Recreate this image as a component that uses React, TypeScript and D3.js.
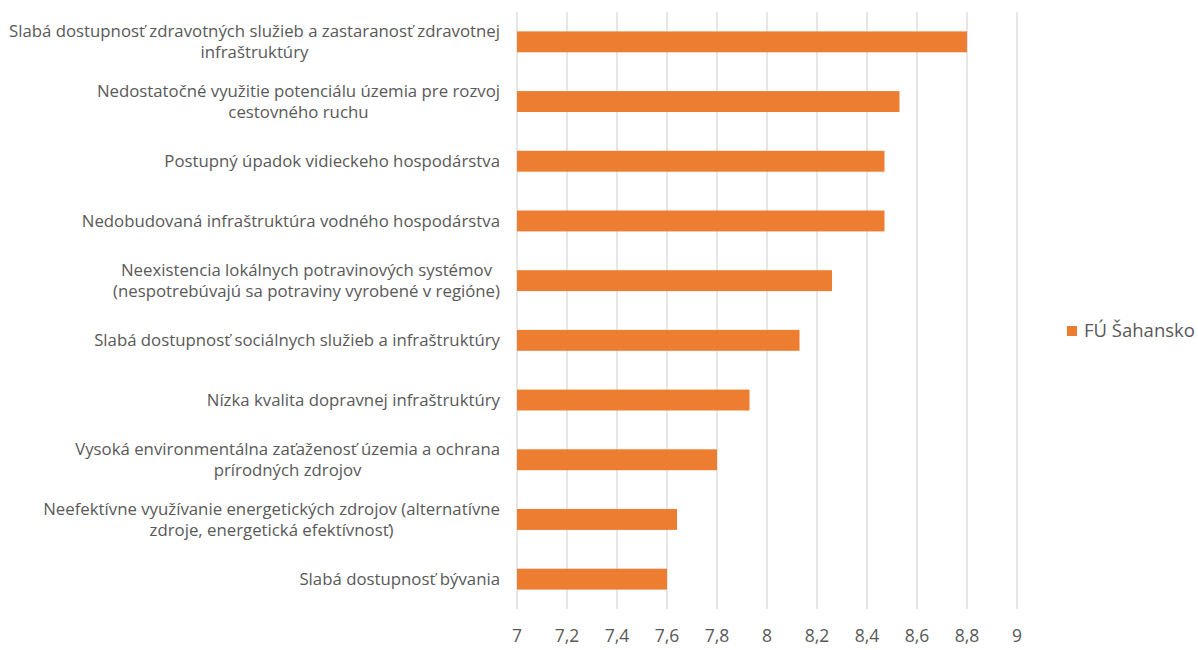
import React, { useEffect, useRef } from "react";
import * as d3 from "d3";

const categories: string[] = [
  "Slabá dostupnosť zdravotných služieb a zastaranosť zdravotnej\ninfraštruktúry",
  "Nedostatočné využitie potenciálu územia pre rozvoj\ncestovného ruchu",
  "Postupný úpadok vidieckeho hospodárstva",
  "Nedobudovaná infraštruktúra vodného hospodárstva",
  "Neexistencia lokálnych potravinových systémov\n(nespotrebúvajú sa potraviny vyrobené v regióne)",
  "Slabá dostupnosť sociálnych služieb a infraštruktúry",
  "Nízka kvalita dopravnej infraštruktúry",
  "Vysoká environmentálna zaťaženosť územia a ochrana\nprírodných zdrojov",
  "Neefektívne využívanie energetických zdrojov (alternatívne\nzdroje, energetická efektívnosť)",
  "Slabá dostupnosť bývania",
];

const values: number[] = [8.8, 8.53, 8.47, 8.47, 8.26, 8.13, 7.93, 7.8, 7.64, 7.6];

const xTicks: number[] = [7, 7.2, 7.4, 7.6, 7.8, 8, 8.2, 8.4, 8.6, 8.8, 9];

const seriesName = "FÚ Šahansko";

const W = 1198;
const H = 650;
const FONT = "'Open Sans', Lato, sans-serif";
const TEXT = "#595959";
const BAR = "#ED7D31";

export default function App() {
  const ref = useRef<SVGSVGElement | null>(null);

  useEffect(() => {
    const svg = d3.select(ref.current);
    svg.selectAll("*").remove();

    const left = 517;
    const right = 1017;
    const top = 12;
    const bottom = 609;

    const x = d3.scaleLinear().domain([7, 9]).range([left, right]);
    const y = d3
      .scaleBand<string>()
      .domain(categories)
      .range([top, bottom])
      .paddingInner(0.65)
      .paddingOuter(0.325);

    // gridlines
    svg
      .append("g")
      .selectAll("line")
      .data(xTicks)
      .join("line")
      .attr("x1", (d) => x(d))
      .attr("x2", (d) => x(d))
      .attr("y1", top)
      .attr("y2", bottom)
      .attr("stroke", "#d9d9d9")
      .attr("stroke-width", 1.3);

    // tick labels
    svg
      .append("g")
      .selectAll("text")
      .data(xTicks)
      .join("text")
      .attr("x", (d) => x(d))
      .attr("y", 636)
      .attr("dy", "0.35em")
      .attr("text-anchor", "middle")
      .attr("font-family", FONT)
      .attr("font-size", 17.5)
      .attr("fill", TEXT)
      .text((d) => d3.format("~g")(d).replace(".", ","));

    // bars
    svg
      .append("g")
      .selectAll("rect")
      .data(categories)
      .join("rect")
      .attr("x", x(7))
      .attr("y", (d) => y(d)!)
      .attr("width", (_, i) => x(values[i]) - x(7))
      .attr("height", y.bandwidth())
      .attr("fill", BAR);

    // category labels
    const lineH = 21.5;
    const labelRight = 500;
    const lg = svg.append("g");
    categories.forEach((cat) => {
      const lines = cat.split("\n");
      const cy = y(cat)! + y.bandwidth() / 2;
      const g = lg.append("g");
      const texts = lines.map((ln, j) =>
        g
          .append("text")
          .attr("y", cy + (j - (lines.length - 1) / 2) * lineH)
          .attr("dy", "0.35em")
          .attr("text-anchor", "middle")
          .attr("font-family", FONT)
          .attr("font-size", 16.8)
          .attr("fill", TEXT)
          .text(ln)
      );
      const maxW = d3.max(texts, (t) => (t.node() as SVGTextElement).getComputedTextLength()) || 0;
      texts.forEach((t) => t.attr("x", labelRight - maxW / 2));
    });

    // legend
    const legY = 331;
    svg
      .append("rect")
      .attr("x", 1067)
      .attr("y", legY - 5)
      .attr("width", 10)
      .attr("height", 10)
      .attr("fill", BAR);
    svg
      .append("text")
      .attr("x", 1084)
      .attr("y", legY)
      .attr("dy", "0.35em")
      .attr("font-family", FONT)
      .attr("font-size", 18.5)
      .attr("fill", TEXT)
      .text(seriesName);
  }, []);

  return (
    <div style={{ position: "absolute", left: 0, top: 0, width: W, height: H, background: "#fff" }}>
      <svg ref={ref} width={W} height={H} style={{ display: "block" }} />
    </div>
  );
}
